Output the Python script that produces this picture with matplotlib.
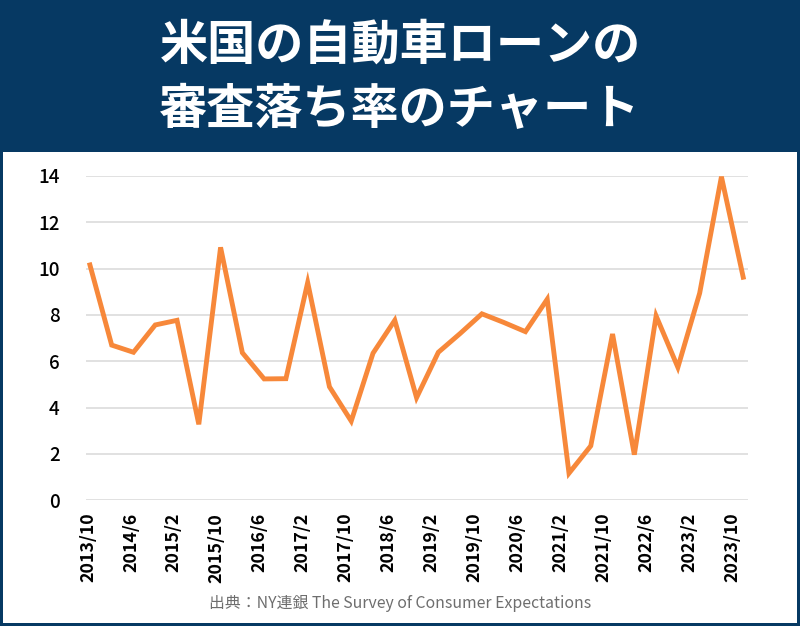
import matplotlib
matplotlib.use("Agg")
import matplotlib.pyplot as plt
from matplotlib.patches import Rectangle

plt.rcParams['font.family'] = ['Noto Sans CJK JP', 'DejaVu Sans']

# survey periods (every 4 months) and denial rate (%)
periods = ['2013/10', '2014/2', '2014/6', '2014/10', '2015/2', '2015/6', '2015/10',
           '2016/2', '2016/6', '2016/10', '2017/2', '2017/6', '2017/10',
           '2018/2', '2018/6', '2018/10', '2019/2', '2019/6', '2019/10',
           '2020/2', '2020/6', '2020/10', '2021/2', '2021/6', '2021/10',
           '2022/2', '2022/6', '2022/10', '2023/2', '2023/6', '2023/10']
denial_rate = [10.16, 6.70, 6.39, 7.57, 7.77, 3.28, 10.92,
               6.37, 5.24, 5.25, 9.40, 4.90, 3.42,
               6.35, 7.77, 4.43, 6.39, 7.20, 8.05,
               7.68, 7.28, 8.68, 1.17, 2.35, 7.18,
               1.97, 7.96, 5.74, 8.94, 13.97, 9.63]
y_ticks = [0, 2, 4, 6, 8, 10, 12, 14]

title_lines = ['米国の自動車ローンの', '審査落ち率のチャート']
source = '出典：NY連銀 The Survey of Consumer Expectations'

NAVY = '#063963'
ORANGE = '#f7883a'
W, H = 800, 626

fig = plt.figure(figsize=(W / 100, H / 100), dpi=100)
fig.patch.set_facecolor(NAVY)

# white panel below the header, leaving a thin navy frame
fig.add_artist(Rectangle((3 / W, 3 / H), (W - 6) / W, (H - 152 - 3) / H,
                         transform=fig.transFigure, facecolor='white',
                         edgecolor='none', zorder=0))

fig.text(0.5, 1 - 45 / H, title_lines[0], ha='center', va='center',
         color='white', fontsize=34.7, fontweight='bold')
fig.text(0.5, 1 - 109 / H, title_lines[1], ha='center', va='center',
         color='white', fontsize=34.7, fontweight='bold')

ax = fig.add_axes([86 / W, (H - 500.3) / H, 662 / W, 324.3 / H])
ax.set_facecolor('none')
x = list(range(len(periods)))
ax.plot(x, denial_rate, color=ORANGE, linewidth=3.5, solid_joinstyle='miter', zorder=3)

ax.set_xlim(-0.18, len(periods) - 1 + 0.22)
ax.set_ylim(0, 14)
ax.set_yticks(y_ticks)
ax.set_yticklabels([str(v) for v in y_ticks], fontsize=13.5, fontweight='medium')

# the labels in the original sit a little left of their points, drifting further right to left
label_pos = [p * 0.986 - 0.09 for p in x[::2]]
ax.set_xticks(label_pos)
ax.set_xticklabels(periods[::2], rotation=90, fontsize=12.8, fontweight='bold')
ax.tick_params(axis='both', length=0)
ax.tick_params(axis='x', pad=9)
ax.tick_params(axis='y', pad=19)
ax.grid(False)
for v in y_ticks:
    ax.axhline(v, color='#dedede', linewidth=1.3, zorder=1)
for s in ax.spines.values():
    s.set_visible(False)

fig.text(0.5, 1 - 604 / H, source, ha='center', va='center',
         color='#6e6e6e', fontsize=11.4)

fig.savefig('out.png', dpi=100, facecolor=fig.get_facecolor())
